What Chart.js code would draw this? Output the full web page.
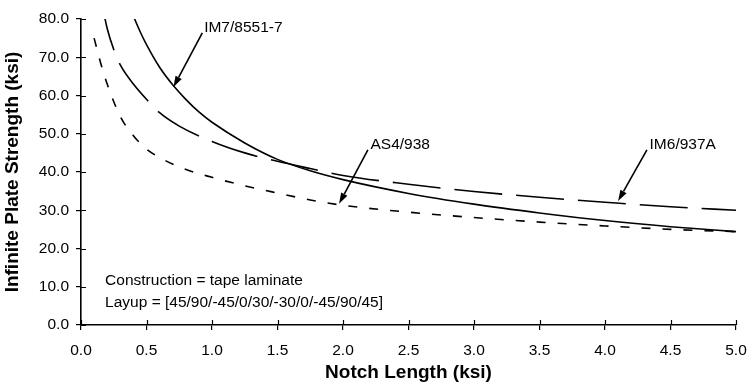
<!DOCTYPE html>
<html>
<head>
<meta charset="utf-8">
<script src="https://cdn.jsdelivr.net/npm/chart.js@4"></script>
<style>
  html, body { margin: 0; padding: 0; background: #fff; }
  #wrap { width: 748px; height: 385px; position: relative; }
</style>
</head>
<body>
<div id="wrap"><canvas id="c"></canvas></div>
<script>
// ---- data ----
const xTickValues = [0, 0.5, 1, 1.5, 2, 2.5, 3, 3.5, 4, 4.5, 5];
const yTickValues = [0, 10, 20, 30, 40, 50, 60, 70, 80];

const im7X = [0.38, 0.4, 0.45, 0.5, 0.6, 0.7, 0.8, 0.9, 1.0, 1.25, 1.5, 1.75, 2.0, 2.5, 3.0, 3.5, 4.0, 4.5, 5.0];
const im7Y = [82.6, 80.8, 76.8, 73.3, 67.4, 62.8, 59.0, 55.7, 53, 47.6, 43.3, 40.3, 38.0, 34.4, 31.6, 29.3, 27.3, 25.7, 24.4];

const im6X = [0.16, 0.2, 0.25, 0.3, 0.4, 0.5, 0.6, 0.75, 1.0, 1.25, 1.5, 1.75, 2.0, 2.5, 3.0, 3.5, 4.0, 4.5, 5.0];
const im6Y = [84, 77.5, 72, 68, 63, 59, 55.5, 52, 48, 45.0, 42.8, 40.9, 39.1, 36.8, 34.9, 33.4, 32.1, 30.9, 30.0];

const as4X = [0.1, 0.15, 0.2, 0.3, 0.4, 0.5, 0.6, 0.75, 1.0, 1.25, 1.5, 1.75, 2.0, 2.5, 3.0, 3.5, 4.0, 4.5, 5.0];
const as4Y = [75, 68.5, 63, 54.5, 49.5, 46, 43.8, 41.3, 38.6, 36.4, 34.5, 32.7, 31.3, 29.5, 28.1, 26.9, 25.9, 25.0, 24.4];

// labels with arrows: [text, labelX, labelY, tailX, tailY, tipX, tipY]
const seriesLabels = [
  ["IM7/8551-7", 0.94, 77.8, 0.926, 76.4, 0.706, 62.2],
  ["AS4/938",    2.21, 47.1, 2.19, 45.8, 1.97, 31.7],
  ["IM6/937A",   4.34, 47.1, 4.32, 45.8, 4.10, 32.4]
];
// free notes: [text, x, y]
const notes = [
  ["Construction = tape laminate", 0.184, 11.6],
  ["Layup = [45/90/-45/0/30/-30/0/-45/90/45]", 0.184, 5.9]
];

const xTitle = "Notch Length (ksi)";
const yTitle = "Infinite Plate Strength (ksi)";

const pts = (xs, ys) => xs.map((x, i) => ({x, y: ys[i]}));
const FONT = "'Liberation Sans', Arial, Helvetica, sans-serif";

const annotationPlugin = {
  id: 'annot',
  afterDraw(chart) {
    const {ctx, scales: {x, y}, chartArea} = chart;
    ctx.save();
    // inner halves of the tick marks (ticks cross the axes)
    ctx.strokeStyle = '#000';
    ctx.lineWidth = 1.2;
    ctx.beginPath();
    xTickValues.forEach(v => {
      const px = Math.round(x.getPixelForValue(v)) + 0.5;
      ctx.moveTo(px, chartArea.bottom);
      ctx.lineTo(px, chartArea.bottom - 5);
    });
    yTickValues.forEach(v => {
      const py = Math.round(y.getPixelForValue(v)) + 0.5;
      ctx.moveTo(chartArea.left, py);
      ctx.lineTo(chartArea.left + 5, py);
    });
    ctx.stroke();

    ctx.fillStyle = '#000';
    ctx.font = '15.5px ' + FONT;
    ctx.textBaseline = 'middle';
    ctx.textAlign = 'left';
    seriesLabels.forEach(([t, lx, ly, tx, ty, hx, hy]) => {
      ctx.fillText(t, x.getPixelForValue(lx), y.getPixelForValue(ly));
      const x0 = x.getPixelForValue(tx), y0 = y.getPixelForValue(ty);
      const x1 = x.getPixelForValue(hx), y1 = y.getPixelForValue(hy);
      const ang = Math.atan2(y1 - y0, x1 - x0);
      const L = 11, W = 3.5;
      const bx = x1 - L * Math.cos(ang), by = y1 - L * Math.sin(ang);
      ctx.lineWidth = 1.6;
      ctx.beginPath();
      ctx.moveTo(x0, y0);
      ctx.lineTo(bx, by);
      ctx.stroke();
      ctx.beginPath();
      ctx.moveTo(x1, y1);
      ctx.lineTo(bx + W * Math.sin(ang), by - W * Math.cos(ang));
      ctx.lineTo(bx - W * Math.sin(ang), by + W * Math.cos(ang));
      ctx.closePath();
      ctx.fill();
    });
    notes.forEach(([t, nx, ny]) => {
      ctx.fillText(t, x.getPixelForValue(nx), y.getPixelForValue(ny));
    });
    ctx.restore();
  }
};

const lineBase = {
  showLine: true,
  pointRadius: 0,
  borderColor: '#000',
  backgroundColor: '#000',
  fill: false,
  cubicInterpolationMode: 'monotone'
};

new Chart(document.getElementById('c'), {
  type: 'scatter',
  data: {
    datasets: [
      Object.assign({}, lineBase, {label: 'IM7/8551-7', data: pts(im7X, im7Y), borderWidth: 1.6}),
      Object.assign({}, lineBase, {label: 'IM6/937A', data: pts(im6X, im6Y), borderWidth: 1.6, borderDash: [48, 14]}),
      Object.assign({}, lineBase, {label: 'AS4/938', data: pts(as4X, as4Y), borderWidth: 1.6, borderDash: [9, 12]})
    ]
  },
  options: {
    responsive: true,
    maintainAspectRatio: false,
    animation: false,
    devicePixelRatio: 1,
    layout: { padding: { left: 0, right: 0, top: 19, bottom: 0 } },
    plugins: {
      legend: { display: false },
      tooltip: { enabled: false }
    },
    scales: {
      x: {
        type: 'linear',
        min: 0, max: 5,
        afterFit: s => { s.height = 60; s.paddingRight = 12; s.paddingLeft = 0; },
        afterBuildTicks: s => { s.ticks = xTickValues.map(v => ({value: v})); },
        ticks: {
          color: '#000',
          font: { family: FONT, size: 15.5 },
          padding: 11,
          maxRotation: 0,
          callback: v => Number(v).toFixed(1)
        },
        grid: { display: true, drawOnChartArea: false, drawTicks: true, tickLength: 5, color: '#000', lineWidth: 1.2 },
        border: { display: true, color: '#000', width: 1.6 },
        title: { display: true, text: xTitle, color: '#000', font: { family: FONT, size: 19, weight: 'bold' }, padding: { top: 0, bottom: 1 } }
      },
      y: {
        type: 'linear',
        min: 0, max: 80,
        afterFit: s => { s.width = 81; s.paddingTop = 0; s.paddingBottom = 0; },
        afterBuildTicks: s => { s.ticks = yTickValues.map(v => ({value: v})); },
        ticks: {
          color: '#000',
          font: { family: FONT, size: 15.5 },
          padding: 7,
          callback: v => Number(v).toFixed(1)
        },
        grid: { display: true, drawOnChartArea: false, drawTicks: true, tickLength: 5, color: '#000', lineWidth: 1.2 },
        border: { display: true, color: '#000', width: 1.6 },
        title: { display: true, text: yTitle, color: '#000', font: { family: FONT, size: 19, weight: 'bold' }, padding: { top: 1, bottom: 0 } }
      }
    }
  },
  plugins: [annotationPlugin]
});
</script>
</body>
</html>
